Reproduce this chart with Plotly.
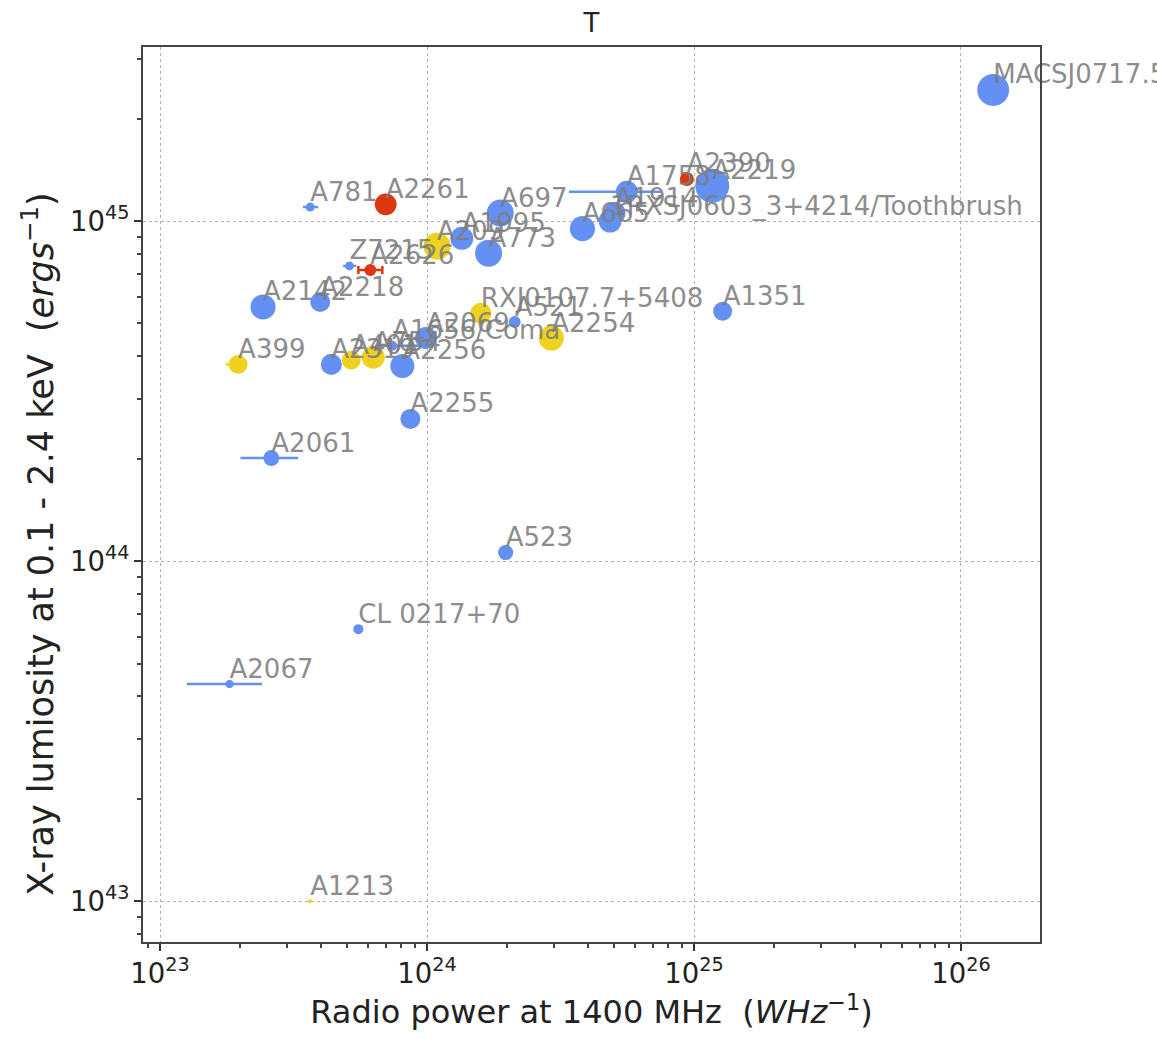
import numpy as np
import plotly.graph_objects as go

# ---- data ----
names = ["MACSJ0717.5+3745", "A2390", "A2219", "A1758", "A781", "A2261", "A697",
         "A665", "A1914", "1RXSJ0603_3+4214/Toothbrush", "A209", "A1995", "A773",
         "Z7215", "A2626", "A2142", "A2218", "RXJ0107.7+5408", "A521", "A1351",
         "A2254", "A2069", "A1656/Coma", "A399", "A2319", "A401", "A754", "A2256",
         "A2255", "A2061", "A523", "CL 0217+70", "A2067", "A1213"]
radio_power = [1.32e26, 9.4e24, 1.17e25, 5.6e24, 3.65e23, 7.0e23, 1.88e24,
               3.82e24, 5.04e24, 4.85e24, 1.09e24, 1.35e24, 1.70e24,
               5.12e23, 6.13e23, 2.43e23, 3.98e23, 1.59e24, 2.13e24, 1.28e25,
               2.92e24, 9.9e23, 7.4e23, 1.96e23, 4.38e23, 5.2e23, 6.29e23, 8.08e23,
               8.66e23, 2.61e23, 1.97e24, 5.53e23, 1.82e23, 3.65e23]
xray_lum = [2.43e45, 1.33e45, 1.27e45, 1.22e45, 1.10e45, 1.12e45, 1.056e45,
            9.5e44, 1.056e45, 1.0e45, 8.44e44, 8.9e44, 8.05e44,
            7.38e44, 7.18e44, 5.59e44, 5.78e44, 5.36e44, 5.05e44, 5.43e44,
            4.53e44, 4.53e44, 4.3e44, 3.79e44, 3.79e44, 3.90e44, 3.98e44, 3.75e44,
            2.62e44, 2.01e44, 1.06e44, 6.31e43, 4.35e43, 1.0e43]
temperature = [11.8, 5.2, 12.6, 8.1, 3.3, 8.1, 10.0,
               9.3, 8.1, 8.5, 10.0, 8.5, 10.0,
               3.3, 4.4, 9.3, 7.4, 7.8, 4.4, 7.0,
               9.3, 8.1, 3.7, 7.0, 7.8, 7.0, 8.5, 8.9,
               7.4, 5.9, 5.6, 3.7, 3.0, 1.5]
group = ["b", "r", "b", "b", "b", "r", "b",
         "b", "b", "b", "y", "b", "b",
         "b", "r", "b", "b", "y", "b", "b",
         "y", "b", "b", "y", "b", "y", "y", "b",
         "b", "b", "b", "b", "b", "y"]
err_minus = [0, 0, 0, 2.2e24, 0.22e23, 0, 0,
             0, 0, 0, 0, 0, 0,
             0.27e23, 0.6e23, 0, 0, 0, 0, 0,
             0, 0, 1.0e23, 0.2e23, 0, 0, 0, 0,
             0, 0.61e23, 0, 0, 0.56e23, 0]
err_plus = [0, 0, 0, 1.9e24, 0.26e23, 0, 0,
            0, 0, 0, 0, 0, 0,
            0.31e23, 0.67e23, 0, 0, 0, 0, 0,
            0, 0, 2.2e23, 0.1e23, 0, 0, 0, 0,
            0, 0.68e23, 0, 0, 0.59e23, 0]

colors = {"b": "#6490f3", "y": "#efd21e", "r": "#dc3810"}
cap = {"b": 0, "y": 0, "r": 4}
px_per_T = 2.7

fig = go.Figure()
for g in ["b", "y", "r"]:
    idx = [i for i, gg in enumerate(group) if gg == g]
    fig.add_trace(go.Scatter(
        x=[radio_power[i] for i in idx],
        y=[xray_lum[i] for i in idx],
        mode="markers",
        marker=dict(size=[temperature[i] * px_per_T for i in idx],
                    color=colors[g], opacity=1, line=dict(width=0)),
        error_x=dict(type="data", symmetric=False,
                     array=[err_plus[i] for i in idx],
                     arrayminus=[err_minus[i] for i in idx],
                     color=colors[g], thickness=2.5, width=cap[g]),
        hoverinfo="skip", showlegend=False, cliponaxis=False))

fig.add_trace(go.Scatter(
    x=radio_power, y=xray_lum, mode="text", text=names,
    textposition="top right",
    textfont=dict(family="DejaVu Sans", size=26, color="rgba(125,125,125,0.9)"),
    hoverinfo="skip", showlegend=False, cliponaxis=False))

axis_common = dict(
    type="log", dtick=1, exponentformat="power",
    showline=True, linecolor="#444", linewidth=2, mirror=True,
    ticks="outside", ticklen=7, tickwidth=1.5, tickcolor="#333",
    minor=dict(ticks="outside", ticklen=4, tickcolor="#444", dtick="D1", showgrid=False),
    showgrid=True, gridcolor="#b0b0b0", gridwidth=1, griddash="3px,3px",
    zeroline=False,
    tickfont=dict(family="DejaVu Sans", size=22, color="#222"),
)

fig.update_xaxes(**axis_common, range=[22.936, 26.296],
                 title=dict(text="Radio power at 1400 MHz  (<i>WHz</i><sup>−1</sup>)",
                            font=dict(family="DejaVu Sans", size=32, color="#222"),
                            standoff=12))
fig.update_yaxes(**axis_common, range=[42.88, 45.512])

fig.add_annotation(
    text="X-ray lumiosity at 0.1 - 2.4 keV  (<i>ergs</i><sup>−1</sup>)",
    xref="paper", yref="paper", x=-0.117, y=0.444,
    xanchor="center", yanchor="middle", textangle=-90, showarrow=False,
    font=dict(family="DejaVu Sans", size=35, color="#222"))

fig.update_layout(
    width=1157, height=1039,
    margin=dict(l=143, r=117, t=47, b=97),
    paper_bgcolor="white", plot_bgcolor="white",
    title=dict(text="T", x=0.5, xref="paper", y=0.978, yanchor="middle",
               font=dict(family="DejaVu Sans", size=26, color="#222")),
)

fig.write_html("out.html")
